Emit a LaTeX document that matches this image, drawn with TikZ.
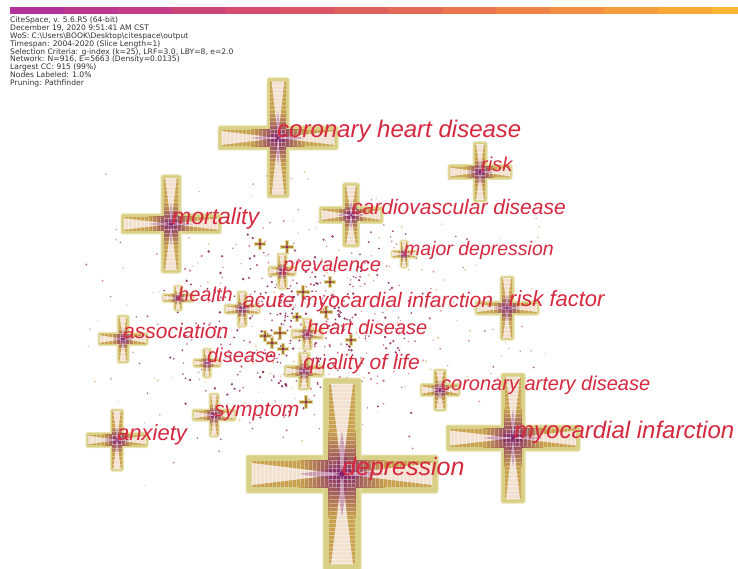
\documentclass[tikz,border=0pt]{standalone}
\usepackage{fontspec}
\setmainfont{Liberation Sans}
\newfontfamily\hdrfont{DejaVu Sans}
\definecolor{khaki}{RGB}{216,208,135}
\definecolor{khakiL}{RGB}{232,226,172}
\definecolor{ochre}{RGB}{200,162,78}
\definecolor{olbr}{RGB}{176,128,58}
\definecolor{purpc}{RGB}{130,32,112}
\definecolor{pale}{RGB}{247,232,222}
\definecolor{labred}{RGB}{214,40,62}
\definecolor{dot1}{RGB}{135,35,85}
\definecolor{dot2}{RGB}{200,100,128}
\definecolor{dot3}{RGB}{228,172,110}
\definecolor{hdrtext}{RGB}{50,50,50}
\tikzset{
  lab/.style={text=labred, inner sep=0pt},
  hdr/.style={text=hdrtext, inner sep=0pt, align=left, font=\hdrfont\fontsize{7.6}{7.9}\selectfont},
  pw/.style={pale,opacity=.92},
  pv/.style={purpc,opacity=.35},
  stripe/.style={white,opacity=.35,dash pattern=on 1pt off 3pt},
}
% large cross: x y H V w u
\newcommand\kwx[6]{%
  \pgfmathsetmacro\ii{max(0.6,0.3*#5)}%
  \pgfmathsetmacro\jj{max(0.6,0.3*#6)}%
  \pgfmathsetmacro\hh{0.45*#3}%
  \pgfmathsetmacro\vv{0.45*#4}%
  \fill[khaki,draw=khakiL,line width=1pt,rounded corners=1.5pt] ({#1-#3},{#2-#5}) rectangle ({#1+#3},{#2+#5});
  \fill[khaki,draw=khakiL,line width=1pt,rounded corners=1.5pt] ({#1-#6},{#2-#4}) rectangle ({#1+#6},{#2+#4});
  \fill[ochre] ({#1-#3+\ii},{#2-#5+\ii}) rectangle ({#1+#3-\ii},{#2+#5-\ii});
  \fill[ochre] ({#1-#6+\jj},{#2-#4+\jj}) rectangle ({#1+#6-\jj},{#2+#4-\jj});
  \shade[left color=purpc!80!olbr,right color=ochre] (#1,{#2-#5+\ii}) rectangle ({#1+\hh},{#2+#5-\ii});
  \shade[left color=ochre,right color=purpc!80!olbr] ({#1-\hh},{#2-#5+\ii}) rectangle (#1,{#2+#5-\ii});
  \shade[top color=ochre,bottom color=purpc!80!olbr] ({#1-#6+\jj},{#2-\vv}) rectangle ({#1+#6-\jj},#2);
  \shade[top color=purpc!80!olbr,bottom color=ochre] ({#1-#6+\jj},#2) rectangle ({#1+#6-\jj},{#2+\vv});
  \fill[pw] (#1,#2) -- ({#1+#3-\ii},{#2-#5+1.4*\ii}) -- ({#1+#3-\ii},{#2+#5-1.4*\ii}) -- cycle;
  \fill[pw] (#1,#2) -- ({#1-#3+\ii},{#2-#5+1.4*\ii}) -- ({#1-#3+\ii},{#2+#5-1.4*\ii}) -- cycle;
  \fill[pw] (#1,#2) -- ({#1-#6+1.4*\jj},{#2-#4+\jj}) -- ({#1+#6-1.4*\jj},{#2-#4+\jj}) -- cycle;
  \fill[pw] (#1,#2) -- ({#1-#6+1.4*\jj},{#2+#4-\jj}) -- ({#1+#6-1.4*\jj},{#2+#4-\jj}) -- cycle;
  \fill[pv] ({#1+\hh},#2) -- (#1,{#2-0.35*#5}) -- ({#1-\hh},#2) -- (#1,{#2+0.35*#5}) -- cycle;
  \fill[pv] (#1,{#2-\vv}) -- ({#1-0.35*#6},#2) -- (#1,{#2+\vv}) -- ({#1+0.35*#6},#2) -- cycle;
  \draw[stripe,line width={2*(#5-\ii)}] ({#1+#3-\ii},#2) -- (#1,#2);
  \draw[stripe,line width={2*(#5-\ii)}] ({#1-#3+\ii},#2) -- (#1,#2);
  \draw[stripe,line width={2*(#6-\jj)}] (#1,{#2-#4+\jj}) -- (#1,#2);
  \draw[stripe,line width={2*(#6-\jj)}] (#1,{#2+#4-\jj}) -- (#1,#2);
  \fill[purpc] (#1,#2) circle ({0.14*#5});
}
% small cross: x y L w
\newcommand\kws[4]{%
  \fill[khaki,opacity=.85] ({#1-#3},{#2-#4}) rectangle ({#1+#3},{#2+#4});
  \fill[khaki,opacity=.85] ({#1-#4},{#2-#3}) rectangle ({#1+#4},{#2+#3});
  \fill[olbr] ({#1-#3+0.8},{#2-#4+0.8}) rectangle ({#1+#3-0.8},{#2+#4-0.8});
  \fill[olbr] ({#1-#4+0.8},{#2-#3+0.8}) rectangle ({#1+#4-0.8},{#2+#3-0.8});
  \fill[purpc] (#1,#2) circle (1.4);
}
% label: name x cy size text
\newcommand\kwl[5]{%
  \node[lab,font=\fontsize{#4}{#4}\selectfont\itshape,anchor=base west] (#1) at (#2,{#3+0.27*#4}) {#5};
}
\begin{document}
\begin{tikzpicture}[x=1pt,y=-1pt]
\useasboundingbox[fill=white] (0,0) rectangle (738,569);
% time bar
\foreach \ra/\ga/\ba [count=\i from 0] in {179/50/155,188/55/144,197/61/132,205/68/120,212/76/110,218/85/102,223/95/94,228/106/87,233/118/80,238/130/73,242/143/67,245/156/61,248/169/55,250/182/50}{
  \definecolor{segc}{RGB}{\ra,\ga,\ba}
  \fill[segc] ({10+54*\i},7) rectangle ({10+54*\i+54.6},14);
}
\node[hdr,anchor=north west] (hdr) at (10,16.5) {CiteSpace, v. 5.6.R5 (64-bit)\\
December 19, 2020 9:51:41 AM CST\\
WoS: C:\textbackslash Users\textbackslash BOOK\textbackslash Desktop\textbackslash citespace\textbackslash output\\
Timespan: 2004-2020 (Slice Length=1)\\
Selection Criteria: g-index (k=25), LRF=3.0, LBY=8, e=2.0\\
Network: N=916, E=5663 (Density=0.0135)\\
Largest CC: 915 (99\%)\\
Nodes Labeled: 1.0\%\\
Pruning: Pathfinder};
% scattered nodes
\pgfmathsetseed{4711}
\foreach \i in {1,...,380}{
  \pgfmathsetmacro\px{330+125*(rand+rand)}
  \pgfmathsetmacro\py{325+90*(rand+rand)}
  \pgfmathsetmacro\rr{0.6+0.5*rnd}
  \pgfmathrandominteger{\cc}{1}{3}
  \fill[dot\cc,opacity=.7] (\px,\py) circle (\rr);
}
\foreach \i in {1,...,360}{
  \pgfmathsetmacro\px{295+70*(rand+rand)}
  \pgfmathsetmacro\py{322+55*(rand+rand)}
  \pgfmathsetmacro\rr{0.8+0.6*rnd}
  \pgfmathrandominteger{\cc}{1}{3}
  \ifnum\cc=3 \def\cc{1}\fi
  \fill[dot\cc,opacity=.85] (\px,\py) circle (\rr);
}
% small unlabeled crosses
\kws{260}{244}{6}{2}
\kws{287}{247}{7}{2}
\kws{330}{282}{6}{1.8}
\kws{303}{292}{7}{2}
\kws{326}{312}{6.5}{2}
\kws{265}{336}{6}{2}
\kws{280}{333}{7}{2}
\kws{272}{343}{6}{1.8}
\kws{351}{340}{6}{2}
\kws{283}{349}{6}{1.8}
\kws{306}{402}{7}{2}
\kws{297}{317}{5}{1.6}
% keyword crosses
\kwx{278}{138}{60}{60}{12}{11}
\kwx{480}{172}{32}{30}{7.5}{7}
\kwx{171}{224}{50}{49}{10}{10}
\kwx{351}{215}{32}{32}{8.5}{8.5}
\kwx{404}{254}{13}{14}{4}{4}
\kwx{282}{271}{14}{18}{5}{5}
\kwx{178}{298}{16}{13}{4.5}{4.5}
\kwx{242}{309}{18}{18}{5}{5}
\kwx{507}{308}{32}{32}{7}{7}
\kwx{123}{339}{25}{24}{6.5}{6}
\kwx{307}{334}{16}{16}{5}{5}
\kwx{207}{363}{14}{15}{4.5}{4.5}
\kwx{304}{371}{20}{19}{6}{6}
\kwx{440}{390}{20}{21}{6.5}{6.5}
\kwx{214}{415}{22}{22}{6}{5}
\kwx{117}{440}{31}{31}{7.5}{6.5}
\kwx{513}{438}{67}{65}{13}{12}
\kwx{342}{474}{96}{96}{19}{19}
% labels
\kwl{l1}{277}{131}{24}{coronary heart disease}
\kwl{l2}{481}{166}{20}{risk}
\kwl{l3}{172}{218}{23}{mortality}
\kwl{l4}{352}{209}{21}{cardiovascular disease}
\kwl{l5}{404}{250}{19.5}{major depression}
\kwl{l6}{283}{266}{20}{prevalence}
\kwl{l7}{178}{296}{20}{health}
\kwl{l8}{243}{302}{21}{acute myocardial infarction}
\kwl{l9}{509}{301}{22}{risk factor}
\kwl{l10}{123}{333}{21}{association}
\kwl{l11}{307}{329}{20}{heart disease}
\kwl{l12}{207}{357}{20}{disease}
\kwl{l13}{303}{364}{21}{quality of life}
\kwl{l14}{441}{385}{20}{coronary artery disease}
\kwl{l15}{214}{411}{21}{symptom}
\kwl{l16}{117}{435}{22}{anxiety}
\kwl{l17}{514}{432}{24}{myocardial infarction}
\kwl{l18}{342}{469}{25}{depression}
\end{tikzpicture}
\end{document}
